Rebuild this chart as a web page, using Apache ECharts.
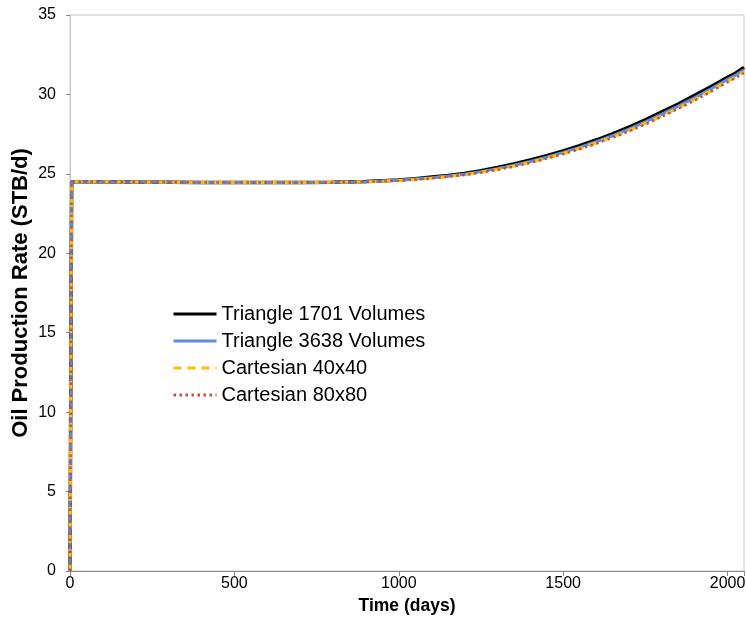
<!DOCTYPE html>
<html>
<head>
<meta charset="utf-8">
<script src="https://cdn.jsdelivr.net/npm/echarts@6/dist/echarts.min.js"></script>
<style>html,body{margin:0;padding:0;background:#fff}#c{width:746px;height:635px}</style>
</head>
<body>
<div id="c"></div>
<script>
const days = [0, 5, 100, 200, 300, 400, 500, 600, 700, 800, 900, 1000, 1050, 1100, 1150, 1200, 1250, 1300, 1350, 1400, 1450, 1500, 1550, 1600, 1650, 1700, 1750, 1800, 1850, 1900, 1950, 2000, 2025, 2050];
const tri1701 = [0, 24.5, 24.5, 24.48, 24.47, 24.46, 24.45, 24.45, 24.45, 24.47, 24.52, 24.62, 24.7, 24.8, 24.9, 25.03, 25.2, 25.4, 25.62, 25.87, 26.14, 26.45, 26.78, 27.13, 27.52, 27.95, 28.4, 28.9, 29.4, 29.95, 30.5, 31.08, 31.35, 31.7];
const tri3638 = [0, 24.5, 24.5, 24.48, 24.47, 24.46, 24.45, 24.45, 24.45, 24.47, 24.51, 24.6, 24.67, 24.76, 24.86, 24.98, 25.14, 25.33, 25.54, 25.78, 26.05, 26.35, 26.67, 27.02, 27.4, 27.82, 28.27, 28.76, 29.26, 29.8, 30.36, 30.95, 31.22, 31.55];
const cart40 = [0, 24.5, 24.5, 24.48, 24.47, 24.46, 24.45, 24.45, 24.45, 24.47, 24.5, 24.58, 24.65, 24.73, 24.83, 24.95, 25.1, 25.28, 25.49, 25.73, 25.99, 26.28, 26.6, 26.94, 27.32, 27.73, 28.17, 28.65, 29.15, 29.68, 30.24, 30.83, 31.1, 31.42];
const cart80 = [0, 24.5, 24.5, 24.48, 24.47, 24.46, 24.45, 24.45, 24.45, 24.46, 24.5, 24.57, 24.64, 24.72, 24.82, 24.93, 25.08, 25.26, 25.46, 25.7, 25.96, 26.25, 26.56, 26.9, 27.28, 27.68, 28.12, 28.6, 29.1, 29.62, 30.18, 30.77, 31.05, 31.35];
const seriesNames = ['Triangle 1701 Volumes', 'Triangle 3638 Volumes', 'Cartesian 40x40', 'Cartesian 80x80'];
const xTicks = [0, 500, 1000, 1500, 2000];
const yTicks = [0, 5, 10, 15, 20, 25, 30, 35];

const pairs = arr => days.map((d, i) => [d, arr[i]]);
const font = 'Liberation Sans, Arial, sans-serif';
const chart = echarts.init(document.getElementById('c'), null, {renderer: 'canvas'});
chart.setOption({
  animation: false,
  backgroundColor: '#fff',
  grid: {left: 70, right: 2, top: 15, bottom: 64, show: true, borderColor: '#c8c8c8', borderWidth: 1,
         containLabel: false, outerBoundsMode: 'none'},
  legend: {
    orient: 'vertical', left: 167, top: 299, itemWidth: 43, itemHeight: 20, itemGap: 7,
    itemStyle: {opacity: 0},
    lineStyle: {width: 3},
    textStyle: {fontFamily: font, fontSize: 20, color: '#000'},
    data: seriesNames
  },
  xAxis: {
    type: 'value', min: 0, max: 2050, interval: 500,
    name: 'Time (days)', nameLocation: 'middle', nameGap: 26,
    nameTextStyle: {fontFamily: font, fontSize: 17.5, fontWeight: 'bold', color: '#000'},
    axisLine: {show: true, onZero: false, lineStyle: {color: '#888', width: 1}},
    axisTick: {show: true, length: 5, lineStyle: {color: '#888'}},
    axisLabel: {fontFamily: font, fontSize: 16, color: '#000', margin: 5,
      formatter: v => xTicks.includes(v) ? String(v) : ''},
    splitLine: {show: false}
  },
  yAxis: {
    type: 'value', min: 0, max: 35, interval: 5,
    name: 'Oil Production Rate (STB/d)', nameLocation: 'middle', nameGap: 38, nameRotate: 90,
    nameMoveOverlap: false,
    nameTextStyle: {fontFamily: font, fontSize: 22, fontWeight: 'bold', color: '#000'},
    axisLine: {show: true, lineStyle: {color: '#c8c8c8', width: 1}},
    axisTick: {show: true, length: 4, lineStyle: {color: '#888'}},
    axisLabel: {fontFamily: font, fontSize: 16, color: '#000', margin: 14,
      formatter: v => yTicks.includes(v) ? String(v) : ''},
    splitLine: {show: false}
  },
  series: [
    {name: seriesNames[0], type: 'line', data: pairs(tri1701), showSymbol: false, symbol: 'none',
     lineStyle: {color: '#000', width: 3.5}, itemStyle: {color: '#000'}, z: 2},
    {name: seriesNames[1], type: 'line', data: pairs(tri3638), showSymbol: false, symbol: 'none',
     lineStyle: {color: '#5a8fdc', width: 3}, itemStyle: {color: '#5a8fdc'}, z: 3},
    {name: seriesNames[2], type: 'line', data: pairs(cart40), showSymbol: false, symbol: 'none',
     lineStyle: {color: '#ffc000', width: 3, type: [8, 6]}, itemStyle: {color: '#ffc000'}, z: 4},
    {name: seriesNames[3], type: 'line', data: pairs(cart80), showSymbol: false, symbol: 'none',
     lineStyle: {color: '#c0504d', width: 2.5, type: [2.5, 3.5]}, itemStyle: {color: '#c0504d'}, z: 5}
  ]
});
</script>
</body>
</html>
